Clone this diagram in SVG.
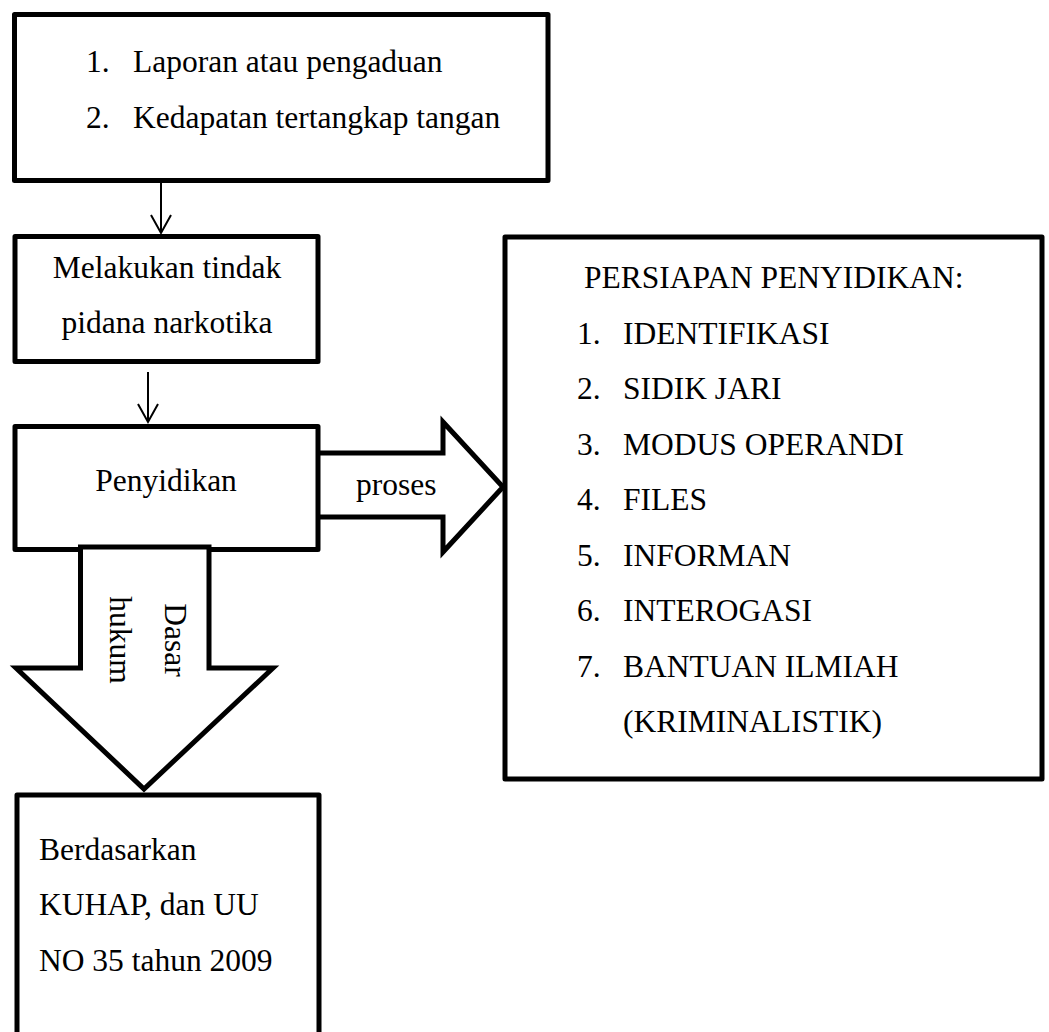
<svg xmlns="http://www.w3.org/2000/svg" width="1049" height="1032" viewBox="0 0 1049 1032">
  <style>
    .box { fill: #ffffff; stroke: #000000; stroke-width: 5; stroke-linejoin: round; }
    .blk { fill: #ffffff; stroke: #000000; stroke-width: 5; stroke-linejoin: miter; }
    .line { fill: none; stroke: #000000; stroke-width: 2; }
    text { font-family: "Liberation Serif", "Times New Roman", serif; font-size: 31.5px; fill: #000000; }
    .mid { text-anchor: middle; }
  </style>
  <defs>
    <marker id="vhead" markerUnits="userSpaceOnUse" viewBox="0 0 22 24" refX="20" refY="12" markerWidth="22" markerHeight="24" orient="auto" overflow="visible">
      <path d="M2,2 L20,12 L2,22" fill="none" stroke="#000000" stroke-width="2"/>
    </marker>
  </defs>
  <rect width="1049" height="1032" fill="#ffffff"/>

  <g id="connectors">
    <line class="line" x1="161" y1="183" x2="161" y2="233" marker-end="url(#vhead)"/>
    <line class="line" x1="148" y1="372" x2="148" y2="422" marker-end="url(#vhead)"/>
  </g>

  <g id="arrow-proses">
    <polygon class="blk" points="300,453 443,453 443,422 503,487 443,552 443,517 300,517"/>
    <text x="356" y="495">proses</text>
  </g>

  <g id="node-sumber">
    <rect class="box" x="14.5" y="14.5" width="533.5" height="166"/>
    <text x="86" y="71.7">1.</text>
    <text x="133" y="71.7">Laporan atau pengaduan</text>
    <text x="86" y="127.7">2.</text>
    <text x="133" y="127.7">Kedapatan tertangkap tangan</text>
  </g>

  <g id="node-tindak">
    <rect class="box" x="15" y="236.5" width="303" height="125"/>
    <text class="mid" x="167" y="278">Melakukan tindak</text>
    <text class="mid" x="167" y="333">pidana narkotika</text>
  </g>

  <g id="node-penyidikan">
    <rect class="box" x="15" y="426.5" width="303" height="123"/>
    <text class="mid" x="166" y="491">Penyidikan</text>
  </g>

  <g id="arrow-dasar-hukum">
    <polygon class="blk" points="80.5,547 209,547 209,668 273,668 144,789 16,668 80.5,668"/>
    <text class="mid" transform="translate(165,640) rotate(90)">Dasar</text>
    <text class="mid" transform="translate(110,640) rotate(90)">hukum</text>
  </g>

  <g id="node-persiapan">
    <rect class="box" x="505" y="237" width="537" height="542"/>
    <text x="584" y="288">PERSIAPAN PENYIDIKAN:</text>
    <text x="577" y="343.5">1.</text>
    <text x="623" y="343.5">IDENTIFIKASI</text>
    <text x="577" y="399">2.</text>
    <text x="623" y="399">SIDIK JARI</text>
    <text x="577" y="454.5">3.</text>
    <text x="623" y="454.5">MODUS OPERANDI</text>
    <text x="577" y="510">4.</text>
    <text x="623" y="510">FILES</text>
    <text x="577" y="565.5">5.</text>
    <text x="623" y="565.5">INFORMAN</text>
    <text x="577" y="621">6.</text>
    <text x="623" y="621">INTEROGASI</text>
    <text x="577" y="676.5">7.</text>
    <text x="623" y="676.5">BANTUAN ILMIAH</text>
    <text x="623" y="732">(KRIMINALISTIK)</text>
  </g>

  <g id="node-dasar">
    <rect class="box" x="17" y="795" width="302" height="260"/>
    <text x="39" y="860">Berdasarkan</text>
    <text x="39" y="915">KUHAP, dan UU</text>
    <text x="39" y="971">NO 35 tahun 2009</text>
  </g>
</svg>
